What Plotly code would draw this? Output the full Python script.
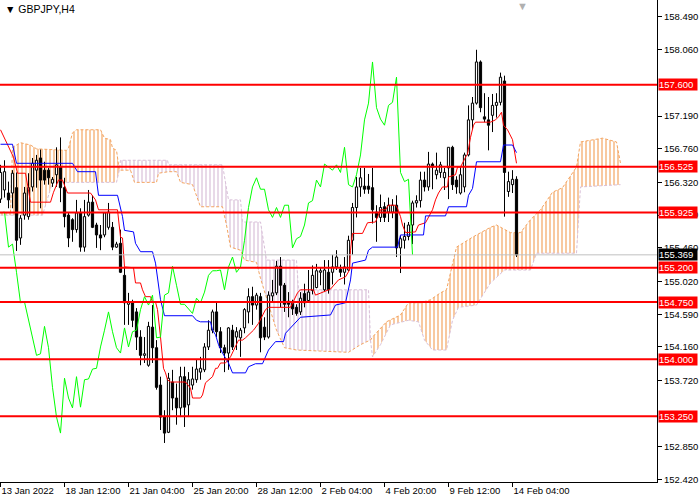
import plotly.graph_objects as go

# GBPJPY H4 candles, bar index 0..129
opens = [156.10, 156.22, 156.18, 156.18, 156.25, 155.59, 155.89, 155.87, 156.26, 156.48,
         156.64, 156.48, 156.48, 156.31, 156.42, 156.52, 156.25, 155.89, 155.83, 155.70,
         155.92, 155.47, 155.89, 156.06, 155.76, 155.63, 155.63, 155.73, 155.73, 155.47,
         155.52, 155.10, 154.72, 154.74, 154.62, 154.29, 154.05, 153.92, 154.42, 154.15,
         153.66, 153.24, 153.04, 153.70, 153.49, 153.36, 153.77, 153.40, 153.66, 153.73,
         153.83, 153.86, 154.16, 154.38, 154.62, 154.36, 154.15, 154.08, 154.38, 154.29,
         154.28, 154.41, 154.62, 154.82, 154.71, 154.82, 154.42, 154.29, 154.83, 154.87,
         155.22, 154.97, 154.76, 154.73, 154.68, 154.62, 154.86, 154.77, 154.90, 154.94,
         155.14, 154.91, 155.14, 155.14, 155.21, 155.18, 155.14, 155.17, 155.56, 155.99,
         156.26, 156.27, 156.27, 156.25, 155.93, 155.86, 156.00, 155.93, 155.93, 156.02,
         155.46, 155.56, 155.61, 155.76, 156.05, 156.08, 156.35, 156.26, 156.56, 156.42,
         156.45, 156.38, 156.51, 156.78, 156.35, 156.18, 156.26, 156.68, 157.14, 157.36,
         157.90, 157.18, 157.14, 157.20, 157.33, 157.37, 157.65, 156.20, 156.29, 156.36]
highs = [156.55, 156.61, 156.33, 156.48, 156.45, 155.89, 156.26, 156.44, 156.64, 156.68,
         156.75, 156.59, 156.51, 156.39, 156.78, 156.91, 156.38, 155.92, 155.85, 156.09,
         155.98, 156.09, 156.22, 156.15, 155.79, 155.76, 155.93, 156.05, 155.80, 155.54,
         155.70, 155.21, 154.87, 154.78, 154.67, 154.38, 154.29, 154.49, 154.71, 154.25,
         153.77, 153.33, 153.82, 153.86, 153.68, 153.90, 153.90, 153.83, 153.90, 153.99,
         154.03, 154.21, 154.51, 154.65, 154.75, 154.42, 154.19, 154.42, 154.45, 154.42,
         154.41, 154.67, 154.93, 154.95, 154.87, 154.87, 154.55, 154.89, 155.04, 155.29,
         155.34, 155.00, 154.88, 154.78, 154.72, 154.88, 154.99, 155.17, 155.23, 155.25,
         155.20, 155.30, 155.30, 155.37, 155.43, 155.24, 155.34, 155.62, 156.05, 156.39,
         156.51, 156.51, 156.43, 156.51, 156.02, 156.16, 156.06, 156.12, 156.10, 156.15,
         155.62, 155.79, 155.80, 156.08, 156.15, 156.46, 156.46, 156.72, 156.58, 156.71,
         156.59, 156.51, 156.78, 156.80, 156.40, 156.53, 156.71, 157.33, 157.44, 158.06,
         157.92, 157.49, 157.44, 157.48, 157.49, 157.76, 157.72, 156.46, 156.48, 156.40]
lows = [156.05, 156.12, 155.98, 155.98, 155.42, 155.50, 155.83, 155.83, 156.20, 156.25,
        155.98, 156.29, 156.29, 156.26, 156.26, 156.06, 155.73, 155.47, 155.54, 155.66,
        155.41, 155.41, 155.87, 155.72, 155.46, 155.43, 155.60, 155.70, 155.43, 155.46,
        155.13, 154.45, 154.45, 154.42, 154.12, 153.92, 153.95, 153.90, 153.95, 153.60,
        153.07, 152.90, 153.03, 153.33, 153.14, 153.24, 153.11, 153.24, 153.60, 153.69,
        153.73, 153.83, 154.12, 154.34, 154.29, 154.08, 153.83, 153.86, 154.12, 154.12,
        154.03, 154.34, 154.47, 154.45, 154.65, 154.09, 154.25, 154.27, 154.74, 154.84,
        154.68, 154.62, 154.55, 154.58, 154.57, 154.58, 154.68, 154.74, 154.85, 154.93,
        154.97, 154.88, 154.86, 154.98, 155.17, 155.08, 154.98, 155.16, 155.37, 155.86,
        156.13, 156.17, 156.17, 155.78, 155.54, 155.80, 155.80, 155.80, 155.85, 155.34,
        155.13, 155.45, 155.56, 155.51, 155.99, 155.99, 156.20, 156.21, 156.23, 156.36,
        156.38, 156.22, 156.10, 156.22, 156.17, 156.16, 156.19, 156.66, 157.01, 157.34,
        157.24, 157.11, 156.74, 156.98, 157.17, 157.33, 155.87, 156.13, 156.18, 155.34]
closes = [156.45, 156.46, 156.09, 156.44, 155.56, 155.85, 156.18, 156.25, 156.57, 156.61,
          156.35, 156.35, 156.38, 156.36, 156.55, 156.25, 155.87, 155.59, 155.70, 155.92,
          155.47, 155.87, 156.06, 155.73, 155.63, 155.59, 155.92, 155.93, 155.47, 155.51,
          155.14, 154.74, 154.75, 154.51, 154.29, 154.05, 154.07, 154.43, 154.15, 153.63,
          153.24, 153.03, 153.75, 153.49, 153.36, 153.77, 153.37, 153.73, 153.74, 153.87,
          153.88, 154.16, 154.38, 154.62, 154.36, 154.15, 154.08, 154.41, 154.16, 154.36,
          154.38, 154.65, 154.82, 154.71, 154.84, 154.28, 154.29, 154.84, 154.87, 155.22,
          154.97, 154.72, 154.72, 154.66, 154.60, 154.80, 154.74, 154.88, 155.10, 155.16,
          155.16, 155.17, 154.91, 155.21, 155.34, 155.14, 155.21, 155.56, 155.99, 156.26,
          156.38, 156.23, 156.23, 155.96, 155.86, 155.99, 155.86, 156.02, 156.02, 155.46,
          155.58, 155.61, 155.76, 156.05, 156.08, 156.35, 156.26, 156.56, 156.52, 156.48,
          156.55, 156.45, 156.78, 156.29, 156.26, 156.42, 156.68, 157.14, 157.36, 157.90,
          157.30, 157.15, 157.07, 157.33, 157.37, 157.70, 156.45, 156.33, 156.36, 155.369]

# Ichimoku lines: (bar index, price)
tenkan = [(0, 157.01), (3.25, 156.65), (4.25, 156.44), (6.25, 156.44), (7.5, 156.06),
          (12.5, 156.06), (13.25, 156.19), (14.5, 156.35), (15.5, 156.35), (16.25, 156.25),
          (16.75, 156.18), (22.5, 156.18), (23.75, 156.09), (24.5, 155.96), (29.25, 155.96),
          (30, 155.60), (30.5, 155.59), (31, 155.21), (33.25, 155.20), (33.75, 155.00),
          (35, 155.00), (35.5, 154.91), (36.25, 154.82), (37.5, 154.82), (38, 154.75),
          (38.75, 154.75), (39.25, 154.65), (40, 154.29), (40.25, 154.12), (40.75, 153.88),
          (41.25, 153.82), (41.75, 153.73), (42.5, 153.70), (46.25, 153.70), (47.5, 153.62),
          (48, 153.49), (50, 153.49), (50.5, 153.53), (51.25, 153.69), (53, 153.77),
          (53.75, 153.88), (54.25, 153.88), (55, 153.95), (56.25, 153.95), (57.5, 154.03),
          (58.75, 154.16), (59.5, 154.25), (60.5, 154.25), (61.25, 154.28), (63.25, 154.38),
          (64.5, 154.47), (66.25, 154.65), (67, 154.68), (72.5, 154.68), (74.25, 154.87),
          (75, 154.91), (78.25, 154.91), (78.75, 154.84), (80, 154.87), (82.5, 154.92),
          (84.5, 155.04), (86.25, 155.08), (87.25, 155.17), (87.5, 155.43), (88, 155.65),
          (90.5, 155.65), (91.75, 155.79), (93.75, 155.80), (95, 155.96), (96.25, 155.96),
          (97, 156.02), (98.75, 156.02), (99.25, 155.98), (100, 155.87), (100.5, 155.76),
          (101.25, 155.66), (103.75, 155.67), (104.5, 155.76), (106.25, 155.79), (108, 155.96),
          (108.75, 156.09), (109.5, 156.18), (110.5, 156.26), (111.75, 156.26), (112, 156.39),
          (113.75, 156.42), (114.25, 156.52), (115, 156.52), (116.25, 156.65), (116.75, 156.69),
          (117.5, 156.91), (118.25, 157.07), (118.75, 157.11), (122.5, 157.11), (123.75, 157.14),
          (124.5, 157.18), (125.25, 157.24), (125.75, 157.07), (126.75, 157.01), (128, 156.88),
          (129, 156.57)]
kijun = [(0, 156.82), (3, 156.82), (4, 156.57), (18, 156.57), (19.25, 156.46), (23.75, 156.46),
         (24.5, 156.15), (29.25, 156.15), (30.5, 155.87), (31, 155.69), (33.25, 155.67),
         (33.75, 155.52), (35, 155.41), (38, 155.41), (38.75, 155.26), (39.5, 155.00),
         (40, 154.78), (41, 154.57), (48, 154.57), (49, 154.51), (50, 154.49), (52.5, 154.49),
         (53, 154.38), (53.75, 154.32), (54.5, 154.19), (55.5, 154.08), (57, 153.95),
         (58, 153.82), (61.25, 153.82), (62, 153.90), (63.75, 153.94), (65.5, 153.94),
         (66.25, 154.02), (67, 154.12), (68.75, 154.23), (70.75, 154.23), (71.25, 154.34),
         (75, 154.55), (82.5, 154.58), (83.75, 154.71), (86.25, 154.74), (87, 154.91),
         (87.5, 155.04), (88, 155.26), (91.25, 155.30), (92, 155.43), (93, 155.47),
         (99.25, 155.47), (100, 155.63), (105.75, 155.63), (106.25, 155.88), (111.25, 155.88),
         (112, 156.00), (116.5, 156.00), (117, 156.15), (118, 156.24), (119, 156.59),
         (125, 156.59), (125.75, 156.81), (128, 156.81), (129, 156.71)]
span_a = [(0, 155.92), (2.5, 155.92), (3, 156.78), (5, 156.84), (7.5, 156.81), (9, 156.76),
          (16.5, 156.74), (17, 156.77), (18, 156.97), (19, 157.01), (25, 157.01), (26, 156.90),
          (27.5, 156.88), (28, 156.77), (29, 156.74), (29.7, 156.48), (30, 156.48),
          (32.5, 156.48), (33.5, 156.32), (39, 156.32), (39.5, 156.44), (42, 156.46),
          (44, 156.46), (45, 156.32), (48, 156.29), (49, 156.15), (50, 156.00), (55.5, 156.00),
          (56.5, 155.76), (57.5, 155.47), (60, 155.43), (61, 155.30), (64, 155.27),
          (65, 155.06), (67, 154.71), (69, 154.38), (71, 154.15), (74, 154.12), (87, 154.09),
          (90, 154.19), (92, 154.24), (92.5, 154.25), (93, 154.29), (96.5, 154.49),
          (100, 154.58), (102, 154.74), (105, 154.74), (107.5, 154.78), (110, 154.87),
          (111.5, 154.91), (114, 155.47), (118, 155.60), (122.5, 155.73), (124, 155.76),
          (127.5, 155.66), (130, 155.66), (132.5, 155.83), (135, 155.96), (138, 156.19),
          (140.5, 156.25), (144, 156.52), (145, 156.85), (150.5, 156.90), (154, 156.85),
          (155, 156.57)]
span_b = [(0, 155.89), (10.5, 155.89), (13, 156.32), (29, 156.32), (29.7, 156.48), (30, 156.61),
          (41.75, 156.61), (42, 156.55), (55.5, 156.55), (57, 156.09), (60, 156.09),
          (60.5, 155.80), (65, 155.80), (66.5, 155.30), (74, 155.30), (74.5, 154.91),
          (92, 154.91), (92.5, 154.25), (93, 154.03), (95, 154.19), (97.5, 154.45),
          (102, 154.51), (104.5, 154.49), (106, 154.25), (108, 154.12), (111.5, 154.12),
          (113, 154.51), (114.5, 154.68), (119, 154.71), (122.5, 155.00), (126, 155.17),
          (132.5, 155.17), (134, 155.39), (144, 155.39), (145, 156.26), (155, 156.29)]
# where span A and span B cross, and which colour each piece of cloud has
cloud_pieces = [(0, 29.7, "#F4A460"), (29.7, 92.5, "#D8BFD8"), (92.5, 155, "#F4A460")]
chikou_shift = 26

levels = [157.600, 156.525, 155.925, 155.200, 154.750, 154.000, 153.250]
last_price = 155.369

# 157.630 and 153.290 sit under the red level boxes, so they are not labelled
price_ticks = [158.49, 158.06, 157.19, 156.76, 156.32, 155.89, 155.46,
               155.02, 154.59, 154.16, 153.72, 152.85, 152.42]
date_ticks = [0, 16, 32, 48, 64, 80, 96, 112, 128]
date_labels = ["13 Jan 2022", "18 Jan 12:00", "21 Jan 04:00", "25 Jan 20:00", "28 Jan 12:00",
               "2 Feb 04:00", "4 Feb 20:00", "9 Feb 12:00", "14 Feb 04:00"]

X_RANGE = [-0.125, 164.125]
Y_RANGE = [152.388, 158.713]
FONT = "Liberation Sans"

fig = go.Figure()

# cloud hatching
for lo, hi, col in cloud_pieces:
    b = [p for p in span_b if lo <= p[0] <= hi]
    a = [p for p in span_a if lo <= p[0] <= hi]
    fig.add_trace(go.Scatter(x=[p[0] for p in b], y=[p[1] for p in b], mode="lines",
                             line=dict(width=0), hoverinfo="skip", showlegend=False))
    fig.add_trace(go.Scatter(x=[p[0] for p in a], y=[p[1] for p in a], mode="lines",
                             line=dict(width=0), fill="tonexty", fillcolor="rgba(0,0,0,0)",
                             fillpattern=dict(shape="|", fgcolor=col, bgcolor="rgba(0,0,0,0)",
                                              size=4, solidity=0.3, fgopacity=1),
                             hoverinfo="skip", showlegend=False))

fig.add_trace(go.Scatter(x=[p[0] for p in span_a], y=[p[1] for p in span_a], mode="lines",
                         line=dict(color="#F4A460", width=1, dash="3px,2px"), showlegend=False))
fig.add_trace(go.Scatter(x=[p[0] for p in span_b], y=[p[1] for p in span_b], mode="lines",
                         line=dict(color="#D8BFD8", width=1, dash="3px,2px"), showlegend=False))

# candles (on an overlay axis so they sit above the cloud)
idx = list(range(len(closes)))
body_lo = [min(o, c) for o, c in zip(opens, closes)]
body_hi = [max(o, c) for o, c in zip(opens, closes)]
wx, wy = [], []
for i in idx:
    wx += [i, i, None, i, i, None]
    wy += [highs[i], body_hi[i], None, body_lo[i], lows[i], None]
fig.add_trace(go.Bar(x=idx, y=[h - l for h, l in zip(body_hi, body_lo)], base=body_lo,
                     width=0.55, xaxis="x2", yaxis="y2",
                     marker=dict(color=["white" if c >= o else "black" for o, c in zip(opens, closes)],
                                 line=dict(color="black", width=1)),
                     showlegend=False))
fig.add_trace(go.Scatter(x=wx, y=wy, mode="lines", line=dict(color="black", width=1),
                         xaxis="x2", yaxis="y2", showlegend=False))

# tenkan, kijun, chikou
fig.add_trace(go.Scatter(x=[p[0] for p in tenkan], y=[p[1] for p in tenkan], mode="lines",
                         line=dict(color="#FF0000", width=1), xaxis="x2", yaxis="y2", showlegend=False))
fig.add_trace(go.Scatter(x=[p[0] for p in kijun], y=[p[1] for p in kijun], mode="lines",
                         line=dict(color="#0000FF", width=1), xaxis="x2", yaxis="y2", showlegend=False))
fig.add_trace(go.Scatter(x=[i - chikou_shift for i in idx[chikou_shift:]], y=closes[chikou_shift:],
                         mode="lines", line=dict(color="#00FF00", width=1),
                         xaxis="x2", yaxis="y2", showlegend=False))

shapes = [dict(type="line", xref="paper", x0=0, x1=1, yref="y", y0=last_price, y1=last_price,
               line=dict(color="#C0C0C0", width=1), layer="above")]
for lv in levels:
    shapes.append(dict(type="line", xref="paper", x0=0, x1=1, yref="y", y0=lv, y1=lv,
                       line=dict(color="#FF0000", width=2), layer="above"))

annotations = []
for lv in levels:
    annotations.append(dict(x=1, xref="paper", xanchor="left", xshift=1, y=lv, yref="y",
                            text=f"{lv:.3f}", showarrow=False, bgcolor="#FF0000", borderpad=0,
                            width=38, align="left", font=dict(family=FONT, size=9.5, color="white")))
annotations.append(dict(x=1, xref="paper", xanchor="left", xshift=1, y=last_price, yref="y",
                        text=f"{last_price:.3f}", showarrow=False, bgcolor="#000000", borderpad=0,
                        width=38, align="left", font=dict(family=FONT, size=9.5, color="white")))
annotations.append(dict(x=0, xref="paper", xanchor="left", xshift=3, y=1, yref="paper", yanchor="top",
                        yshift=-1, text="▼ GBPJPY,H4", showarrow=False,
                        font=dict(family=FONT, size=10.5, color="black")))
annotations.append(dict(x=130.5, xref="x", y=1, yref="paper", yanchor="top", yshift=2, text="▼",
                        showarrow=False, font=dict(family=FONT, size=11, color="#B0B0B0")))

fig.update_layout(
    width=700, height=500,
    margin=dict(l=0, r=43, t=0, b=18),
    paper_bgcolor="white", plot_bgcolor="white",
    showlegend=False, barmode="overlay",
    font=dict(family=FONT, size=9.5, color="black"),
    xaxis=dict(range=X_RANGE, tickvals=date_ticks, ticktext=date_labels, ticks="outside",
               ticklen=4, tickcolor="black", showline=True, linecolor="black", linewidth=1,
               showgrid=False, zeroline=False, ticklabelposition="outside right",
               tickfont=dict(family=FONT, size=9.5, color="black")),
    yaxis=dict(range=Y_RANGE, side="right", tickvals=price_ticks,
               ticktext=[f"{t:.3f}" for t in price_ticks], ticks="outside", ticklen=4,
               tickcolor="black", showline=True, linecolor="black", linewidth=1,
               showgrid=False, zeroline=False,
               tickfont=dict(family=FONT, size=9.5, color="black")),
    xaxis2=dict(range=X_RANGE, overlaying="x", anchor="y2", visible=False),
    yaxis2=dict(range=Y_RANGE, overlaying="y", anchor="x2", side="right", visible=False),
    shapes=shapes,
    annotations=annotations,
)

# the page's default body margin would push the 700x500 figure off the window
fig.write_html("out.html", config={"displayModeBar": False},
               post_script="document.body.style.margin='0';")
